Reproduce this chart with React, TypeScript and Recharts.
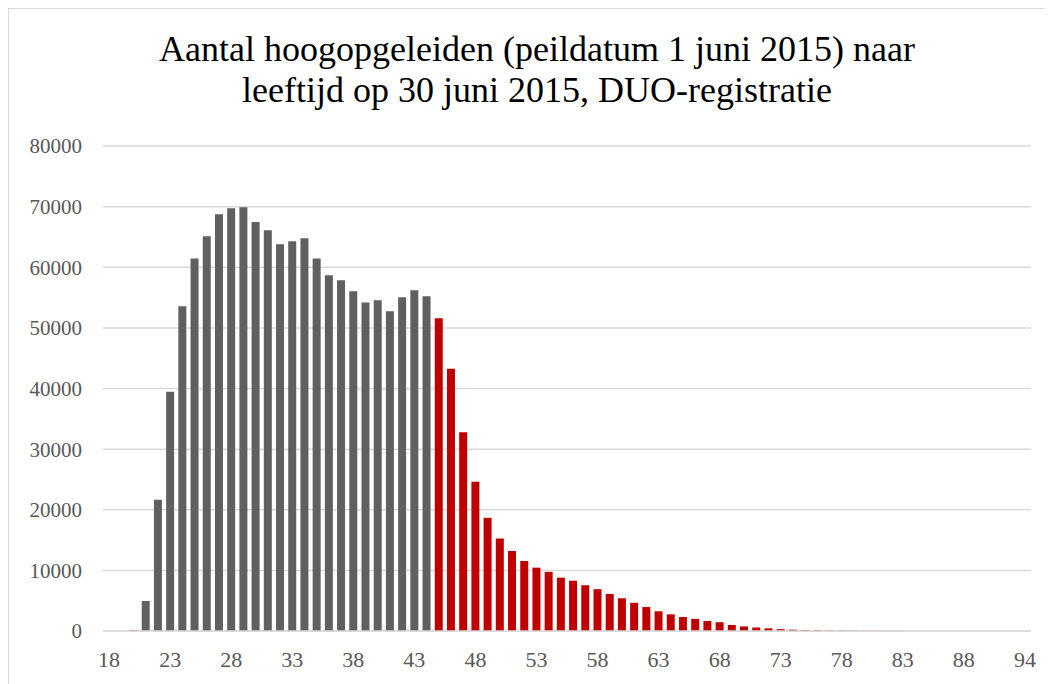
import { BarChart, Bar, XAxis, YAxis, CartesianGrid, Cell } from "recharts";

const ages = [
  "18", "19", "20", "21", "22", "23", "24", "25", "26", "27", "28", "29", "30",
  "31", "32", "33", "34", "35", "36", "37", "38", "39", "40", "41", "42", "43",
  "44", "45", "46", "47", "48", "49", "50", "51", "52", "53", "54", "55", "56",
  "57", "58", "59", "60", "61", "62", "63", "64", "65", "66", "67", "68", "69",
  "70", "71", "72", "73", "74", "75", "76", "77", "78", "79", "80", "81", "82",
  "83", "84", "85", "86", "87", "88", "89", "90", "91", "92", "94",
];

const counts = [
  0, 0, 150, 4950, 21650, 39450, 53550, 61450, 65100, 68750, 69750, 69900, 67450,
  66100, 63800, 64300, 64800, 61450, 58700, 57850, 56050, 54200, 54550, 52750, 55050, 56200,
  55200, 51600, 43250, 32800, 24600, 18700, 15250, 13200, 11550, 10450, 9750, 8800, 8300,
  7550, 6900, 6100, 5400, 4650, 3950, 3250, 2750, 2300, 2000, 1650, 1450, 1000,
  750, 580, 440, 300, 220, 170, 140, 100, 80, 60, 40, 25, 15,
  10, 6, 4, 3, 2, 1, 1, 0, 0, 0, 0,
];

// gray = ages 21-44, red = the rest
const grayAges = ["21", "22", "23", "24", "25", "26", "27", "28", "29", "30", "31", "32",
  "33", "34", "35", "36", "37", "38", "39", "40", "41", "42", "43", "44"];

const yTicks = [0, 10000, 20000, 30000, 40000, 50000, 60000, 70000, 80000];

const data = ages.map((age, i) => ({ age, count: counts[i] }));

const font = '"Liberation Serif", "DejaVu Serif", serif';

export default function App() {
  return (
    <div
      style={{
        position: "relative",
        width: 1045,
        height: 676,
        borderTop: "1px solid #d9d9d9",
        borderLeft: "1px solid #d9d9d9",
        boxSizing: "border-box",
        background: "#fff",
        fontFamily: font,
      }}
    >
      <div
        style={{
          position: "absolute",
          left: 0,
          top: 20,
          width: 1056,
          textAlign: "center",
          fontSize: 36,
          lineHeight: "41px",
          color: "#000",
        }}
      >
        Aantal hoogopgeleiden (peildatum 1 juni 2015) naar
        <br />
        leeftijd op 30 juni 2015, DUO-registratie
      </div>
      <BarChart
        width={1044}
        height={675}
        data={data}
        margin={{ top: 137, right: 22, bottom: 0, left: 0 }}
        barCategoryGap="17%"
      >
        <CartesianGrid vertical={false} stroke="#d9d9d9" strokeWidth={1.5} />
        <XAxis
          dataKey="age"
          interval={4}
          height={53}
          axisLine={{ stroke: "#d9d9d9", strokeWidth: 1.5 }}
          tickLine={false}
          tickSize={0}
          tickMargin={20}
          tick={{ fill: "#595959", fontSize: 22, fontFamily: font }}
        />
        <YAxis
          width={94}
          domain={[0, 80000]}
          ticks={yTicks}
          axisLine={false}
          tickLine={false}
          tickSize={0}
          tickMargin={21}
          tick={{ fill: "#595959", fontSize: 21, fontFamily: font }}
        />
        <Bar dataKey="count" isAnimationActive={false}>
          {data.map((d) => (
            <Cell key={d.age} fill={grayAges.includes(d.age) ? "#606060" : "#c00000"} />
          ))}
        </Bar>
      </BarChart>
    </div>
  );
}
